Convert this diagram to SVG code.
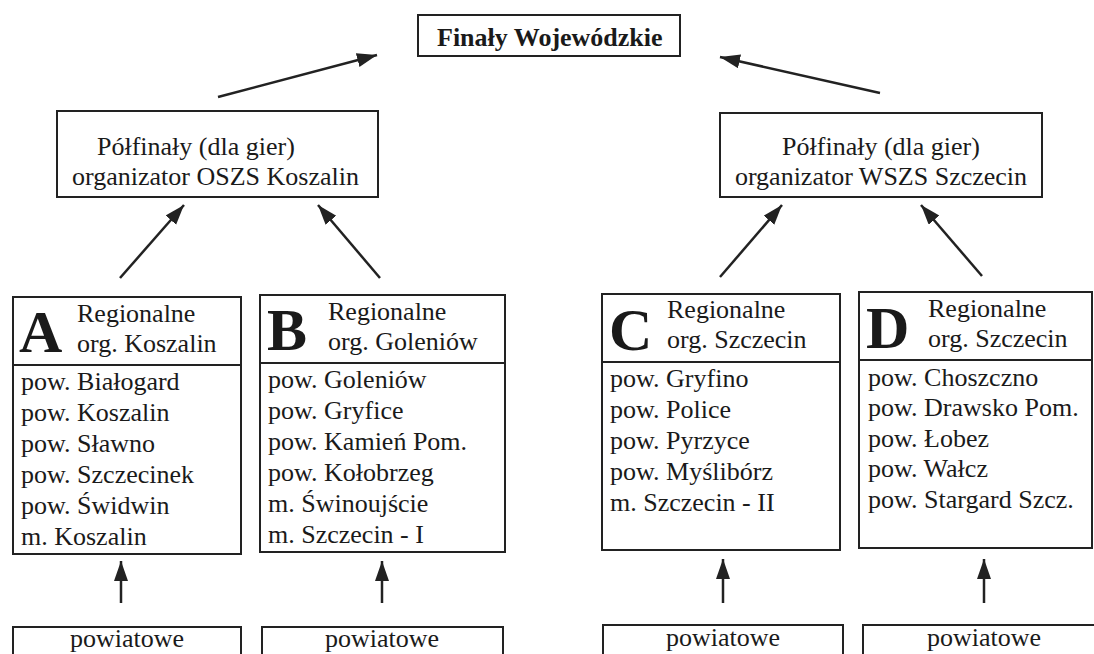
<svg xmlns="http://www.w3.org/2000/svg" width="1094" height="654" viewBox="0 0 1094 654">
<style>
.box{fill:#fff;stroke:#222;stroke-width:2}
.t{font-family:"Liberation Serif","Times New Roman",serif;font-size:26px;fill:#1a1a1a}
.tb{font-family:"Liberation Serif","Times New Roman",serif;font-weight:bold;fill:#1a1a1a}
.big{font-family:"Liberation Serif","Times New Roman",serif;font-weight:bold;font-size:60px;fill:#1a1a1a}
.c{text-anchor:middle}
.arr{stroke:#222;stroke-width:2.5;fill:none;marker-end:url(#ah)}
</style>
<defs>
<marker id="ah" markerUnits="userSpaceOnUse" markerWidth="22" markerHeight="16" refX="20" refY="7" orient="auto">
<path d="M0,0 L20,7 L0,14 Z" fill="#222"/>
</marker>
</defs>
<rect width="1094" height="654" fill="#fff"/>

<g id="connectors">
<line class="arr" x1="218" y1="97" x2="377" y2="55"/>
<line class="arr" x1="880" y1="93" x2="720" y2="57"/>
<line class="arr" x1="120" y1="278" x2="184" y2="205"/>
<line class="arr" x1="380" y1="278" x2="318" y2="205"/>
<line class="arr" x1="720" y1="277" x2="782" y2="205"/>
<line class="arr" x1="982" y1="276" x2="921" y2="205"/>
<line class="arr" x1="121" y1="603" x2="121" y2="561"/>
<line class="arr" x1="382" y1="603" x2="382" y2="561"/>
<line class="arr" x1="723" y1="603" x2="723" y2="559"/>
<line class="arr" x1="984" y1="603" x2="984" y2="559"/>
</g>

<g id="finaly">
<rect class="box" x="418" y="15" width="262" height="41"/>
<text class="tb" x="437" y="46" font-size="26">Finały Wojewódzkie</text>
</g>

<g id="polfinal-koszalin">
<rect class="box" x="57" y="111" width="321" height="86"/>
<text class="t" x="97" y="155">Półfinały (dla gier)</text>
<text class="t" x="72" y="185">organizator OSZS Koszalin</text>
</g>

<g id="polfinal-szczecin">
<rect class="box" x="720" y="113" width="322" height="84"/>
<text class="t c" x="881" y="155">Półfinały (dla gier)</text>
<text class="t c" x="881" y="185">organizator WSZS Szczecin</text>
</g>

<g id="region-a">
<rect class="box" x="13" y="297" width="228" height="257"/>
<line class="box" x1="13" y1="365" x2="241" y2="365"/>
<text class="big" x="19" y="352">A</text>
<text class="t" x="77" y="322">Regionalne</text>
<text class="t" x="77" y="352">org. Koszalin</text>
<text class="t" x="21" y="390">pow. Białogard</text>
<text class="t" x="21" y="421">pow. Koszalin</text>
<text class="t" x="21" y="452">pow. Sławno</text>
<text class="t" x="21" y="483">pow. Szczecinek</text>
<text class="t" x="21" y="514">pow. Świdwin</text>
<text class="t" x="21" y="545">m. Koszalin</text>
</g>

<g id="region-b">
<rect class="box" x="260" y="295" width="245" height="257"/>
<line class="box" x1="260" y1="363" x2="505" y2="363"/>
<text class="big" x="267" y="350">B</text>
<text class="t" x="328" y="320">Regionalne</text>
<text class="t" x="328" y="350">org. Goleniów</text>
<text class="t" x="268" y="388">pow. Goleniów</text>
<text class="t" x="268" y="419">pow. Gryfice</text>
<text class="t" x="268" y="450">pow. Kamień Pom.</text>
<text class="t" x="268" y="481">pow. Kołobrzeg</text>
<text class="t" x="268" y="512">m. Świnoujście</text>
<text class="t" x="268" y="543">m. Szczecin - I</text>
</g>

<g id="region-c">
<rect class="box" x="602" y="294" width="238" height="256"/>
<line class="box" x1="602" y1="362" x2="840" y2="362"/>
<text class="big" x="609" y="350">C</text>
<text class="t" x="667" y="318">Regionalne</text>
<text class="t" x="667" y="348">org. Szczecin</text>
<text class="t" x="610" y="387">pow. Gryfino</text>
<text class="t" x="610" y="418">pow. Police</text>
<text class="t" x="610" y="449">pow. Pyrzyce</text>
<text class="t" x="610" y="480">pow. Myślibórz</text>
<text class="t" x="610" y="511">m. Szczecin - II</text>
</g>

<g id="region-d">
<rect class="box" x="859" y="292" width="233" height="256"/>
<line class="box" x1="859" y1="360" x2="1092" y2="360"/>
<text class="big" x="866" y="348">D</text>
<text class="t" x="928" y="317">Regionalne</text>
<text class="t" x="928" y="347">org. Szczecin</text>
<text class="t" x="868" y="386">pow. Choszczno</text>
<text class="t" x="868" y="416">pow. Drawsko Pom.</text>
<text class="t" x="868" y="447">pow. Łobez</text>
<text class="t" x="868" y="477">pow. Wałcz</text>
<text class="t" x="868" y="508">pow. Stargard Szcz.</text>
</g>

<g id="powiat-a">
<rect class="box" x="13" y="627" width="228" height="40"/>
<text class="t c" x="127" y="647">powiatowe</text>
</g>
<g id="powiat-b">
<rect class="box" x="262" y="627" width="241" height="40"/>
<text class="t c" x="382" y="647">powiatowe</text>
</g>
<g id="powiat-c">
<rect class="box" x="603" y="625" width="240" height="40"/>
<text class="t c" x="723" y="646">powiatowe</text>
</g>
<g id="powiat-d">
<rect class="box" x="863" y="625" width="240" height="40"/>
<text class="t c" x="984" y="646">powiatowe</text>
</g>
</svg>
